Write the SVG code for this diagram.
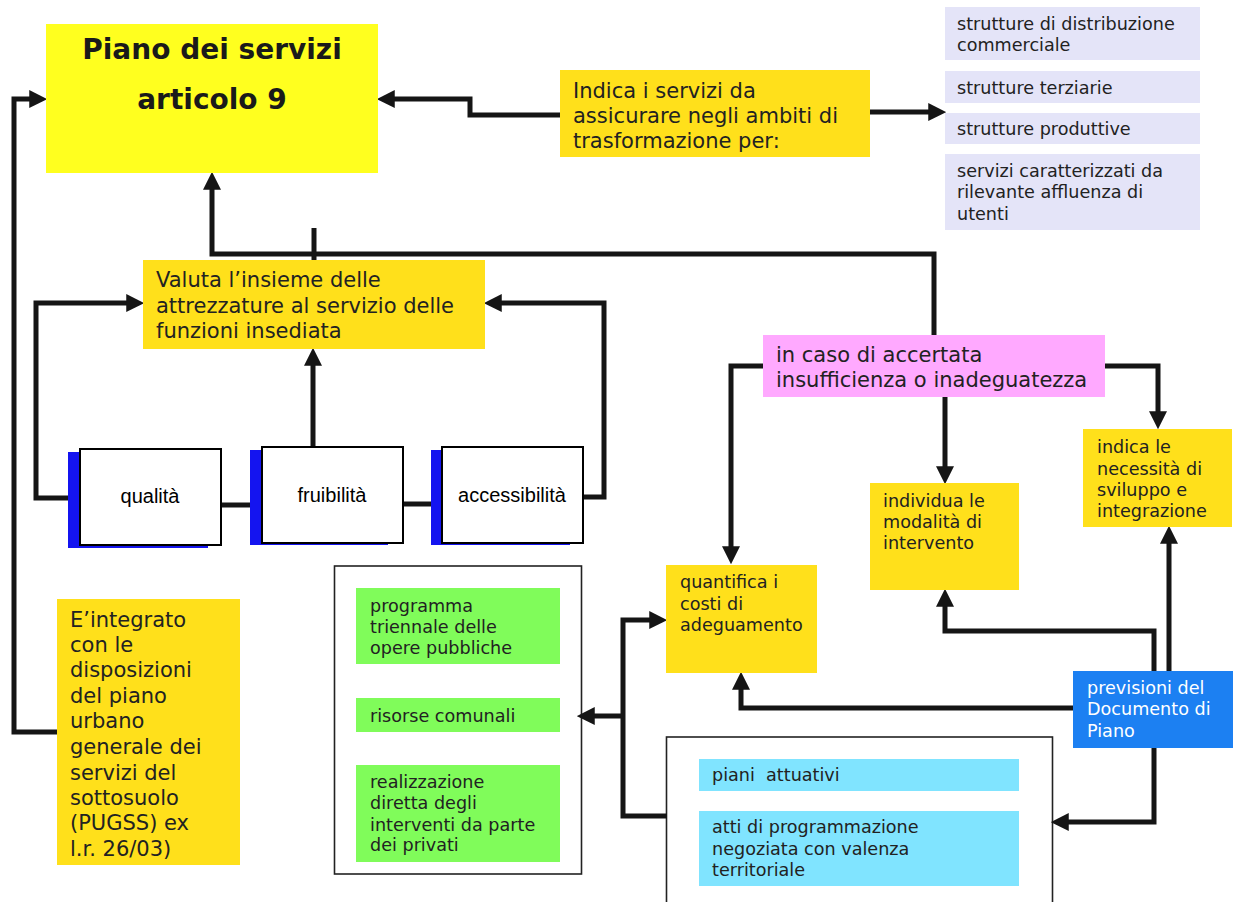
<svg xmlns="http://www.w3.org/2000/svg" width="1234" height="902" viewBox="0 0 1234 902">
<defs>
<style>
.t{font-family:"DejaVu Sans",Verdana,sans-serif;fill:#222;}
.big{font-size:21px;}
.sm{font-size:17.6px;}
.ttl{font-family:"DejaVu Sans",Verdana,sans-serif;font-size:28px;font-weight:bold;fill:#1a1a1a;text-anchor:middle;}
.ar{font-family:"Liberation Sans",Arial,sans-serif;font-size:20px;fill:#000;text-anchor:middle;}
.gold{fill:#FFE01B;}
.lav{fill:#E4E4F8;}
.grn{fill:#80FC5A;}
.cyn{fill:#80E4FF;}
.ln{fill:none;stroke:#151515;stroke-width:5;}
.frame{fill:#fff;stroke:#222;stroke-width:1.6;}
</style>
<marker id="ah" markerUnits="userSpaceOnUse" markerWidth="18" markerHeight="18" viewBox="0 0 16 16" refX="6" refY="8" orient="auto">
<path d="M0,0 L16,8 L0,16 z" fill="#151515"/>
</marker>
</defs>
<rect width="1234" height="902" fill="#fff"/>

<g id="frame-green"><rect class="frame" x="334.5" y="566" width="247" height="308"/></g>
<g id="frame-cyan"><rect class="frame" x="666.5" y="737" width="386" height="180"/></g>

<g id="connectors">
<path class="ln" d="M57,732 H14 V99 H36" marker-end="url(#ah)"/>
<path class="ln" d="M560,115 H470 V99 H388" marker-end="url(#ah)"/>
<path class="ln" d="M870,112 H935" marker-end="url(#ah)"/>
<path class="ln" d="M934,335 V254 H212 V183" marker-end="url(#ah)"/>
<path class="ln" d="M314,228 V260"/>
<path class="ln" d="M68,498 H36 V303 H133" marker-end="url(#ah)"/>
<path class="ln" d="M583,497 H604 V303 H495" marker-end="url(#ah)"/>
<path class="ln" d="M313,447 V359" marker-end="url(#ah)"/>
<path class="ln" d="M221,505 H250"/>
<path class="ln" d="M403,504 H431"/>
<path class="ln" d="M763,366 H731 V553" marker-end="url(#ah)"/>
<path class="ln" d="M945,397 V473" marker-end="url(#ah)"/>
<path class="ln" d="M1105,366 H1158 V418" marker-end="url(#ah)"/>
<path class="ln" d="M1169,672 V537" marker-end="url(#ah)"/>
<path class="ln" d="M1154,672 V631 H945 V600" marker-end="url(#ah)"/>
<path class="ln" d="M1073,708 H741 V683" marker-end="url(#ah)"/>
<path class="ln" d="M1154,748 V822 H1062" marker-end="url(#ah)"/>
<path class="ln" d="M667,816 H623 V620 H656" marker-end="url(#ah)"/>
<path class="ln" d="M623,716 H588" marker-end="url(#ah)"/>
</g>

<g id="piano">
<rect x="46" y="24" width="332" height="149" fill="#FFFF1F"/>
<text class="ttl" x="212" y="59">Piano dei servizi</text>
<text class="ttl" x="212" y="109">articolo 9</text>
</g>

<g id="indica-servizi">
<rect class="gold" x="560" y="70" width="310" height="87"/>
<text class="t big" x="573" y="98">Indica i servizi da</text>
<text class="t big" x="573" y="123">assicurare negli ambiti di</text>
<text class="t big" x="573" y="148">trasformazione per:</text>
</g>

<g id="distribuzione">
<rect class="lav" x="945" y="7" width="255" height="53"/>
<text class="t sm" x="957" y="30">strutture di distribuzione</text>
<text class="t sm" x="957" y="51">commerciale</text>
</g>
<g id="terziarie">
<rect class="lav" x="945" y="71" width="255" height="32"/>
<text class="t sm" x="957" y="94">strutture terziarie</text>
</g>
<g id="produttive">
<rect class="lav" x="945" y="113" width="255" height="31"/>
<text class="t sm" x="957" y="135">strutture produttive</text>
</g>
<g id="affluenza">
<rect class="lav" x="945" y="154" width="255" height="76"/>
<text class="t sm" x="957" y="177">servizi caratterizzati da</text>
<text class="t sm" x="957" y="198">rilevante affluenza di</text>
<text class="t sm" x="957" y="220">utenti</text>
</g>

<g id="valuta">
<rect class="gold" x="143" y="260" width="342" height="89"/>
<text class="t big" x="156" y="287">Valuta l’insieme delle</text>
<text class="t big" x="156" y="313">attrezzature al servizio delle</text>
<text class="t big" x="156" y="338">funzioni insediata</text>
</g>

<g id="qualita">
<rect x="68" y="452" width="140" height="96" fill="#1414F0"/>
<rect x="80" y="449" width="141" height="96" fill="#fff" stroke="#000" stroke-width="2"/>
<text class="ar" x="150" y="503">qualità</text>
</g>
<g id="fruibilita">
<rect x="250" y="450" width="138" height="95" fill="#1414F0"/>
<rect x="262" y="447" width="141" height="96" fill="#fff" stroke="#000" stroke-width="2"/>
<text class="ar" x="332" y="502">fruibilità</text>
</g>
<g id="accessibilita">
<rect x="431" y="450" width="139" height="95" fill="#1414F0"/>
<rect x="442" y="447" width="141" height="96" fill="#fff" stroke="#000" stroke-width="2"/>
<text class="ar" x="512" y="502">accessibilità</text>
</g>

<g id="insufficienza">
<rect x="763" y="335" width="342" height="62" fill="#FFA9FF"/>
<text class="t big" x="776" y="362">in caso di accertata</text>
<text class="t big" x="776" y="387">insufficienza o inadeguatezza</text>
</g>

<g id="individua">
<rect class="gold" x="870" y="483" width="149" height="107"/>
<text class="t sm" x="883" y="507">individua le</text>
<text class="t sm" x="883" y="528">modalità di</text>
<text class="t sm" x="883" y="549">intervento</text>
</g>

<g id="indica-necessita">
<rect class="gold" x="1083" y="429" width="149" height="98"/>
<text class="t sm" x="1097" y="453">indica le</text>
<text class="t sm" x="1097" y="475">necessità di</text>
<text class="t sm" x="1097" y="496">sviluppo e</text>
<text class="t sm" x="1097" y="517">integrazione</text>
</g>

<g id="quantifica">
<rect class="gold" x="666" y="565" width="151" height="108"/>
<text class="t sm" x="680" y="588">quantifica i</text>
<text class="t sm" x="680" y="610">costi di</text>
<text class="t sm" x="680" y="631">adeguamento</text>
</g>

<g id="previsioni">
<rect x="1073" y="671" width="160" height="77" fill="#1C80F2"/>
<text class="t sm" x="1087" y="694" fill="#fff" style="fill:#fff">previsioni del</text>
<text class="t sm" x="1087" y="715" style="fill:#fff">Documento di</text>
<text class="t sm" x="1087" y="737" style="fill:#fff">Piano</text>
</g>

<g id="integrato">
<rect class="gold" x="57" y="599" width="183" height="266"/>
<text class="t big" x="70" y="627">E’integrato</text>
<text class="t big" x="70" y="652">con le</text>
<text class="t big" x="70" y="677">disposizioni</text>
<text class="t big" x="70" y="703">del piano</text>
<text class="t big" x="70" y="728">urbano</text>
<text class="t big" x="70" y="754">generale dei</text>
<text class="t big" x="70" y="780">servizi del</text>
<text class="t big" x="70" y="805">sottosuolo</text>
<text class="t big" x="70" y="830">(PUGSS) ex</text>
<text class="t big" x="70" y="856">l.r. 26/03)</text>
</g>

<g id="programma">
<rect class="grn" x="356" y="588" width="204" height="76"/>
<text class="t sm" x="370" y="612">programma</text>
<text class="t sm" x="370" y="633">triennale delle</text>
<text class="t sm" x="370" y="654">opere pubbliche</text>
</g>
<g id="risorse">
<rect class="grn" x="356" y="698" width="204" height="34"/>
<text class="t sm" x="370" y="722">risorse comunali</text>
</g>
<g id="realizzazione">
<rect class="grn" x="356" y="765" width="204" height="97"/>
<text class="t sm" x="370" y="788">realizzazione</text>
<text class="t sm" x="370" y="809">diretta degli</text>
<text class="t sm" x="370" y="831">interventi da parte</text>
<text class="t sm" x="370" y="851">dei privati</text>
</g>

<g id="piani-attuativi">
<rect class="cyn" x="699" y="759" width="320" height="32"/>
<text class="t sm" x="712" y="781" xml:space="preserve">piani  attuativi</text>
</g>
<g id="atti">
<rect class="cyn" x="699" y="811" width="320" height="75"/>
<text class="t sm" x="712" y="833">atti di programmazione</text>
<text class="t sm" x="712" y="855">negoziata con valenza</text>
<text class="t sm" x="712" y="876">territoriale</text>
</g>
</svg>
